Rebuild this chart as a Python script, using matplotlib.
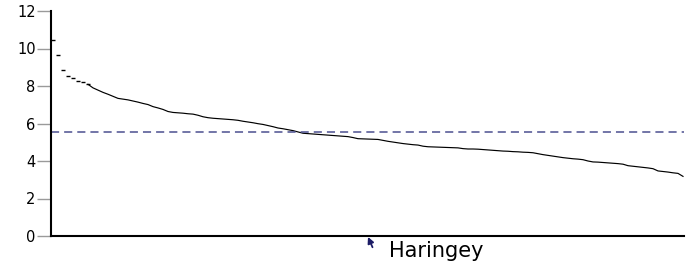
import matplotlib
matplotlib.use("Agg")
import matplotlib.pyplot as plt
import numpy as np

# ranked values (highest to lowest)
values = [
    10.45, 9.67, 8.85, 8.53, 8.45, 8.27, 8.20, 8.09, 7.90, 7.78,
    7.66, 7.56, 7.45, 7.34, 7.30, 7.26, 7.20, 7.14, 7.07, 7.01,
    6.90, 6.83, 6.75, 6.64, 6.59, 6.57, 6.55, 6.52, 6.50, 6.44,
    6.36, 6.31, 6.28, 6.26, 6.24, 6.22, 6.20, 6.17, 6.12, 6.08,
    6.04, 5.99, 5.95, 5.89, 5.83, 5.76, 5.72, 5.67, 5.62, 5.55,
    5.48, 5.46, 5.44, 5.42, 5.40, 5.38, 5.36, 5.34, 5.32, 5.30,
    5.25, 5.19, 5.18, 5.17, 5.16, 5.15, 5.10, 5.05, 5.01, 4.97,
    4.93, 4.90, 4.87, 4.85, 4.79, 4.76, 4.75, 4.74, 4.73, 4.72,
    4.71, 4.70, 4.66, 4.64, 4.64, 4.63, 4.61, 4.59, 4.57, 4.55,
    4.53, 4.52, 4.50, 4.49, 4.47, 4.46, 4.44, 4.39, 4.34, 4.30,
    4.26, 4.22, 4.18, 4.15, 4.12, 4.10, 4.07, 4.00, 3.95, 3.94,
    3.92, 3.90, 3.88, 3.86, 3.83, 3.75, 3.72, 3.69, 3.66, 3.63,
    3.59, 3.47, 3.44, 3.41, 3.37, 3.34, 3.18,
]
average = 5.56
highlight_rank = 63
highlight_name = "Haringey"
yticks = [0, 2, 4, 6, 8, 10, 12]

rank = np.arange(len(values))

fig = plt.figure(figsize=(6.91, 2.65), dpi=100)
ax = fig.add_axes([51 / 691, 29 / 265, 633 / 691, 225 / 265])

# sparse dashes at the top end, then a continuous thin line
ax.plot(rank[:8], values[:8], ls="none", marker="_", ms=3.4, mew=1.0, color="black")
ax.plot(rank[7:], values[7:], lw=0.85, color="black")
ax.axhline(average, color="#4b4f8f", lw=1.1, dashes=(5.3, 3.3))

ax.set_xlim(-0.4, len(values) - 0.8)
ax.set_ylim(0, 12)
ax.set_xticks([])
ax.set_yticks(yticks)
ax.set_yticklabels([str(t) for t in yticks], fontsize=10.5)
ax.tick_params(axis="y", direction="out", length=10, width=1,
               color="#9a9a9a", pad=1)

for s in ["top", "right"]:
    ax.spines[s].set_visible(False)
for s in ["left", "bottom"]:
    ax.spines[s].set_linewidth(1.5)
    ax.spines[s].set_color("black")

ax.annotate("", xy=(highlight_rank, -0.05), xytext=(highlight_rank + 0.9, -0.6),
            arrowprops=dict(arrowstyle="-|>", color="#1c1c66", lw=1.3,
                            mutation_scale=9, shrinkA=0, shrinkB=0),
            annotation_clip=False)
ax.text(highlight_rank + 4.2, -1.12, highlight_name, fontsize=15,
        va="baseline", ha="left", clip_on=False)

fig.savefig("out.png", dpi=100)
